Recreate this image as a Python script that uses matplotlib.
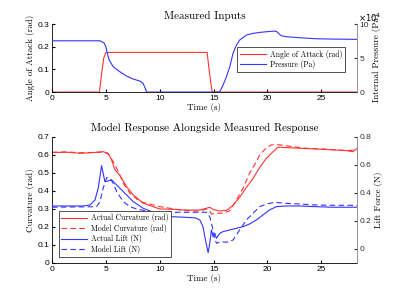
import numpy as np
import matplotlib
matplotlib.use('Agg')
import matplotlib.pyplot as plt

# Medidas de entrada
t_aoa = [0, 4.4, 4.6, 4.8, 5.0, 14.4, 14.6, 14.86, 28.3]
aoa = [0, 0, 0.08, 0.15, 0.175, 0.175, 0.09, 0, 0]

t_pres = [0, 4.45, 4.82, 5.0, 5.13, 5.31, 5.68, 6.30, 6.92, 7.54, 8.16, 8.46, 8.65, 8.77, 8.85,
          15.5, 15.57, 15.88, 16.19, 16.50, 16.80, 17.12, 17.42, 18.04, 18.66, 19.28, 19.90,
          20.67, 20.88, 21.13, 21.29, 21.75, 22.98, 24.53, 26.07, 28.3]
pres = [75400, 75400, 72500, 66600, 56900, 47000, 37200, 29900, 23500, 19100, 16200, 12700, 5400, 500, 0,
        0, 500, 10300, 22500, 37200, 56900, 69100, 76500, 83800, 86300, 87700, 88700,
        89700, 88700, 84800, 82800, 81400, 79900, 78400, 77900, 77500]

# Respuesta medida y del modelo
t_curv = [0, 1.36, 2.59, 3.83, 4.75, 5.22, 5.53, 5.84, 6.15, 6.46, 6.92, 7.54, 8.46, 10.0, 11.24,
          12.48, 13.72, 14.34, 14.64, 14.95, 15.57, 16.19, 16.80, 17.42, 18.04, 18.66, 18.97,
          19.28, 19.90, 20.52, 20.98, 21.75, 22.98, 24.53, 26.07, 27.31, 27.93, 28.3]
curv = [0.613, 0.615, 0.609, 0.613, 0.618, 0.609, 0.572, 0.517, 0.498, 0.470, 0.424, 0.378, 0.332, 0.300, 0.298,
        0.294, 0.294, 0.304, 0.309, 0.298, 0.289, 0.292, 0.320, 0.365, 0.420, 0.470, 0.500,
        0.530, 0.582, 0.618, 0.643, 0.641, 0.637, 0.633, 0.628, 0.624, 0.618, 0.635]

t_curv_m = [0, 1.36, 2.59, 3.83, 4.75, 5.22, 5.68, 6.0, 6.3, 6.61, 7.23, 8.16, 10.0, 12.17, 13.72,
            14.34, 14.64, 14.8, 15.26, 15.88, 16.5, 17.12, 17.73, 18.35, 18.97, 19.28, 19.9,
            20.36, 21.13, 22.36, 23.6, 25.46, 27.31, 28.3]
curv_m = [0.615, 0.617, 0.612, 0.614, 0.616, 0.605, 0.563, 0.526, 0.489, 0.443, 0.387, 0.341, 0.313, 0.292, 0.288,
          0.300, 0.290, 0.272, 0.276, 0.277, 0.290, 0.350, 0.415, 0.500, 0.563, 0.600, 0.640,
          0.656, 0.656, 0.646, 0.637, 0.632, 0.624, 0.628]

t_lift = [0, 2.9, 3.52, 3.99, 4.29, 4.6, 4.75, 4.91, 5.22, 5.53, 5.84, 6.3, 6.92, 7.54, 8.46, 10.0,
          11.24, 12.48, 13.3, 13.72, 14.02, 14.18, 14.34, 14.49, 14.64, 14.8, 14.95, 15.11, 15.26,
          15.57, 15.88, 16.5, 17.12, 17.73, 18.35, 18.97, 19.58, 20.2, 20.82, 21.75, 22.98, 24.53,
          26.07, 28.3]
lift = [0.307, 0.307, 0.314, 0.350, 0.434, 0.595, 0.540, 0.480, 0.486, 0.493, 0.469, 0.434, 0.386, 0.338, 0.291, 0.243,
        0.230, 0.226, 0.222, 0.207, 0.159, 0.088, 0.029, -0.026, 0.040, 0.136, 0.088, 0.112, 0.076,
        0.112, 0.124, 0.136, 0.148, 0.159, 0.179, 0.207, 0.243, 0.279, 0.302, 0.307, 0.307, 0.302,
        0.298, 0.298]

t_lift_m = [0, 4.14, 4.45, 4.75, 5.07, 5.38, 5.68, 6.0, 6.61, 7.23, 7.85, 9.08, 10.0, 11.24, 13.72,
            14.34, 14.64, 14.95, 15.11, 15.3, 15.57, 16.19, 16.8, 17.42, 18.04, 18.66, 19.28, 19.9,
            20.67, 21.75, 22.98, 24.53, 26.07, 28.3]
lift_m = [0.298, 0.302, 0.338, 0.434, 0.509, 0.505, 0.469, 0.409, 0.338, 0.302, 0.286, 0.266, 0.262, 0.262, 0.262,
          0.262, 0.231, 0.136, 0.064, 0.040, 0.052, 0.048, 0.064, 0.136, 0.207, 0.255, 0.302, 0.321,
          0.333, 0.326, 0.321, 0.314, 0.312, 0.312]

serif = 'cmr10'
gris = '#7f7f7f'
plt.rcParams['font.family'] = 'Liberation Sans'
plt.rcParams['font.size'] = 6
plt.rcParams['xtick.direction'] = 'in'
plt.rcParams['ytick.direction'] = 'in'
plt.rcParams['xtick.major.size'] = 2.5
plt.rcParams['ytick.major.size'] = 2.5
plt.rcParams['axes.linewidth'] = 0.6

fig = plt.figure(figsize=(3.97, 2.97), dpi=100)

# ---- Entradas ----
ax1 = fig.add_axes([0.131, 0.690, 0.768, 0.229])
ax1.plot(t_aoa, aoa, color='#ff3333', lw=0.8, label='Angle of Attack (rad)')
ax1.set_xlim(0, 28.3)
ax1.set_ylim(0, 0.3)
ax1.set_yticks([0, 0.1, 0.2, 0.3])
ax1.set_yticklabels(['0', '0.1', '0.2', '0.3'])
ax1.set_xticks([0, 5, 10, 15, 20, 25])
ax1.set_title('Measured Inputs', fontfamily=serif, fontsize=8, pad=4)
ax1.set_xlabel('Time (s)', fontfamily=serif, fontsize=6.5, labelpad=1)
ax1.set_ylabel('Angle of Attack (rad)', fontfamily=serif, fontsize=6.5, labelpad=2)
ax1.spines['top'].set_visible(False)
ax1.spines['right'].set_visible(False)
ax1.tick_params(pad=2)

ax1b = ax1.twinx()
ax1b.plot(t_pres, np.array(pres) / 1e4, color='#3333ff', lw=0.8, label='Pressure (Pa)')
ax1b.set_ylim(0, 10)
ax1b.set_yticks([0, 5, 10])
ax1b.set_yticklabels(['0', '5', '10'])
ax1b.set_ylabel('Internal Pressure (Pa)', fontfamily=serif, fontsize=6.5, labelpad=2)
for s in ['top', 'left', 'bottom']:
    ax1b.spines[s].set_visible(False)
ax1b.spines['right'].set_color(gris)
ax1b.tick_params(colors='#333333', pad=2)
ax1b.text(1.005, 1.0, r'$\times10^4$', transform=ax1b.transAxes, fontsize=6, ha='left', va='bottom')

h1, l1 = ax1.get_legend_handles_labels()
h2, l2 = ax1b.get_legend_handles_labels()
leg = ax1b.legend(h1 + h2, l1 + l2, loc='upper right', bbox_to_anchor=(0.96, 0.665),
                  prop={'family': serif, 'size': 5.5}, fancybox=False, edgecolor='#333333',
                  framealpha=1, borderpad=0.35, labelspacing=0.2, handlelength=3.4,
                  handletextpad=0.5, borderaxespad=0)
leg.get_frame().set_linewidth(0.6)

# ---- Respuesta ----
ax2 = fig.add_axes([0.131, 0.1145, 0.768, 0.4245])
ax2.plot(t_curv, curv, color='#ff3333', lw=0.8, label='Actual Curvature (rad)')
ax2.plot(t_curv_m, curv_m, color='#ff3333', lw=0.8, ls=(0, (5, 3)), label='Model Curvature (rad)')
ax2.set_xlim(0, 28.3)
ax2.set_ylim(0, 0.7)
ax2.set_yticks(np.arange(0, 0.71, 0.1))
ax2.set_yticklabels(['0', '0.1', '0.2', '0.3', '0.4', '0.5', '0.6', '0.7'])
ax2.set_xticks([0, 5, 10, 15, 20, 25])
ax2.set_title('Model Response Alongside Measured Response', fontfamily=serif, fontsize=8, pad=4)
ax2.set_xlabel('Time (s)', fontfamily=serif, fontsize=6.5, labelpad=1)
ax2.set_ylabel('Curvature (rad)', fontfamily=serif, fontsize=6.5, labelpad=2)
ax2.spines['top'].set_visible(False)
ax2.spines['right'].set_visible(False)
ax2.tick_params(pad=2)

ax2b = ax2.twinx()
ax2b.plot(t_lift, lift, color='#3333ff', lw=0.8, label='Actual Lift (N)')
ax2b.plot(t_lift_m, lift_m, color='#3333ff', lw=0.8, ls=(0, (5, 3)), label='Model Lift (N)')
ax2b.set_ylim(-0.1, 0.8)
ax2b.set_yticks([0, 0.2, 0.4, 0.6, 0.8])
ax2b.set_yticklabels(['0', '0.2', '0.4', '0.6', '0.8'])
ax2b.set_ylabel('Lift Force (N)', fontfamily=serif, fontsize=6.5, labelpad=2)
for s in ['top', 'left', 'bottom']:
    ax2b.spines[s].set_visible(False)
ax2b.spines['right'].set_color(gris)
ax2b.tick_params(colors='#333333', pad=2)

h1, l1 = ax2.get_legend_handles_labels()
h2, l2 = ax2b.get_legend_handles_labels()
leg2 = ax2b.legend(h1 + h2, l1 + l2, loc='lower left', bbox_to_anchor=(0.022, 0.05),
                   prop={'family': serif, 'size': 5.5}, fancybox=False, edgecolor='#333333',
                   framealpha=1, borderpad=0.35, labelspacing=0.2, handlelength=3.4,
                   handletextpad=0.5, borderaxespad=0)
leg2.get_frame().set_linewidth(0.6)

fig.savefig('out.png', dpi=100)
